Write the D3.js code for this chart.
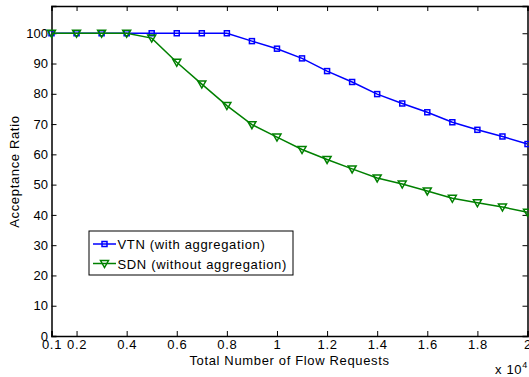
<!DOCTYPE html>
<html>
<head>
<meta charset="utf-8">
<script src="https://cdn.jsdelivr.net/npm/d3@7"></script>
<style>
  body { margin: 0; background: #fff; }
  text { font-family: "Liberation Sans", Arial, sans-serif; fill: #000; }
</style>
</head>
<body>
<div id="chart"></div>
<script>
const WIDTH = 529;
const HEIGHT = 377;

const flowRequests = [0.1, 0.2, 0.3, 0.4, 0.5, 0.6, 0.7, 0.8, 0.9, 1.0,
  1.1, 1.2, 1.3, 1.4, 1.5, 1.6, 1.7, 1.8, 1.9, 2.0];
const vtnValues = [100, 100, 100, 100, 100, 100, 100, 100, 97.4, 94.9,
  91.7, 87.5, 83.9, 79.9, 76.8, 73.9, 70.6, 68.1, 65.9, 63.4];
const sdnValues = [100, 100, 100, 100, 98.4, 90.4, 83.2, 76.1, 69.8, 65.7,
  61.6, 58.3, 55.2, 52.2, 50.2, 47.9, 45.5, 44.0, 42.6, 40.9];
const xTicks = [0.1, 0.2, 0.4, 0.6, 0.8, 1, 1.2, 1.4, 1.6, 1.8, 2];
const yTicks = [0, 10, 20, 30, 40, 50, 60, 70, 80, 90, 100];
const seriesNames = ['VTN (with aggregation)', 'SDN (without aggregation)'];

const margin = { left: 51.5, right: 1.5, top: 6, bottom: 41 };
const SPACING = 0.65;

const xScale = d3.scaleLinear()
  .domain([0.1, 2])
  .range([margin.left, WIDTH - margin.right]);

const yScale = d3.scaleLinear()
  .domain([0, 109])
  .range([HEIGHT - margin.bottom, margin.top]);

const svg = d3.select('#chart')
  .append('svg')
  .attr('width', WIDTH)
  .attr('height', HEIGHT);

// axes: ticks point inward, box style like matlab
const xAxis = svg.append('g')
  .attr('transform', `translate(0, ${yScale(0)})`)
  .call(d3.axisBottom(xScale).tickValues(xTicks).tickSize(-5).tickPadding(4).tickFormat(d => String(d)));
xAxis.selectAll('.tick text').attr('letter-spacing', SPACING);

svg.append('g')
  .attr('transform', `translate(0, ${yScale(109)})`)
  .call(d3.axisTop(xScale).tickValues(xTicks.slice(1)).tickSize(-5).tickFormat(''));

svg.append('g')
  .attr('transform', `translate(${xScale(0.1)}, 0)`)
  .call(d3.axisLeft(yScale).tickValues(yTicks).tickSize(-5).tickPadding(3.5));

svg.append('g')
  .attr('transform', `translate(${xScale(2)}, 0)`)
  .call(d3.axisRight(yScale).tickValues(yTicks).tickSize(-5).tickFormat(''));

svg.selectAll('.domain').attr('stroke', '#000').attr('stroke-width', 1.5);
svg.selectAll('.tick line').attr('stroke', '#000').attr('stroke-width', 1);
svg.selectAll('.tick text')
  .attr('font-size', 13)
  .attr('font-family', '"Liberation Sans", Arial, sans-serif')
  .attr('fill', '#000');

const series = [
  { name: seriesNames[0], values: vtnValues, color: '#0000ff', marker: 'square' },
  { name: seriesNames[1], values: sdnValues, color: '#008000', marker: 'tri' }
];

const line = d3.line()
  .x((d, i) => xScale(flowRequests[i]))
  .y(d => yScale(d));

const drawMarker = (g, type, color) => {
  if (type === 'square') {
    g.append('rect')
      .attr('x', -2.5).attr('y', -2.5)
      .attr('width', 5).attr('height', 5)
      .attr('fill', 'none').attr('stroke', color).attr('stroke-width', 1.5);
  } else {
    g.append('path')
      .attr('d', 'M-4,-3L4,-3L0,4Z')
      .attr('fill', 'none').attr('stroke', color).attr('stroke-width', 1.5);
  }
};

series.forEach(s => {
  svg.append('path')
    .datum(s.values)
    .attr('d', line)
    .attr('fill', 'none')
    .attr('stroke', s.color)
    .attr('stroke-width', 1.5);

  svg.selectAll(null)
    .data(s.values)
    .enter()
    .append('g')
    .attr('transform', (d, i) => `translate(${xScale(flowRequests[i])}, ${yScale(d)})`)
    .each(function() { drawMarker(d3.select(this), s.marker, s.color); });
});

// legend
const legend = svg.append('g').attr('transform', 'translate(89, 231)');
legend.append('rect')
  .attr('width', 204).attr('height', 44)
  .attr('fill', '#fff').attr('stroke', '#000').attr('stroke-width', 1);

series.forEach((s, i) => {
  const row = legend.append('g').attr('transform', `translate(0, ${13 + i * 19.5})`);
  row.append('line')
    .attr('x1', 4).attr('x2', 27)
    .attr('stroke', s.color).attr('stroke-width', 1.5);
  const m = row.append('g').attr('transform', 'translate(15.5, 0)');
  drawMarker(m, s.marker, s.color);
  row.append('text')
    .attr('x', 28.5).attr('y', 5)
    .attr('font-size', 13)
    .attr('letter-spacing', SPACING)
    .text(s.name);
});

// axis labels
svg.append('text')
  .attr('x', xScale(1.05))
  .attr('y', 365)
  .attr('text-anchor', 'middle')
  .attr('font-size', 13)
  .attr('letter-spacing', SPACING)
  .text('Total Number of Flow Requests');

svg.append('text')
  .attr('transform', `translate(18.5, ${yScale(54.3)}) rotate(-90)`)
  .attr('text-anchor', 'middle')
  .attr('font-size', 13)
  .attr('letter-spacing', SPACING)
  .text('Acceptance Ratio');

const expo = svg.append('text')
  .attr('x', 495)
  .attr('y', 374)
  .attr('font-size', 13)
  .attr('letter-spacing', SPACING);
expo.append('tspan').text('x 10');
expo.append('tspan').attr('font-size', 9).attr('dy', -6).text('4');
</script>
</body>
</html>
